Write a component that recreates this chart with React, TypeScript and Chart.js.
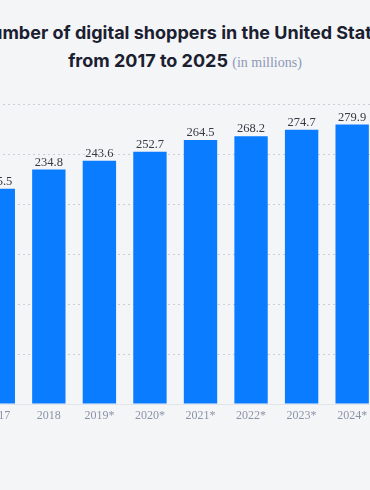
import React, { useEffect, useRef } from "react";
import { Chart, registerables } from "chart.js";

Chart.register(...registerables);

const categories = ["2017", "2018", "2019*", "2020*", "2021*", "2022*", "2023*", "2024*", "2025*"];
const shoppers = [215.5, 234.8, 243.6, 252.7, 264.5, 268.2, 274.7, 279.9, 285.0];
const yMin = 0;
const yMax = 300;
const yStep = 50;
const titleLine1 = "Number of digital shoppers in the United States";
const titleLine2 = "from 2017 to 2025";
const unitLabel = "(in millions)";

const BG = "#f4f5f7";
const BAR = "#0a7cff";

const valueLabels = {
  id: "valueLabels",
  afterDatasetsDraw(chart: any) {
    const ctx = chart.ctx;
    const meta = chart.getDatasetMeta(0);
    ctx.save();
    ctx.font = "12.5px 'Liberation Serif', 'DejaVu Serif', serif";
    ctx.fillStyle = "#363a43";
    ctx.textAlign = "center";
    ctx.textBaseline = "alphabetic";
    meta.data.forEach((el: any, i: number) => {
      ctx.fillText(shoppers[i].toFixed(1), el.x, el.y - 4);
    });
    ctx.restore();
  },
};

export default function App() {
  const ref = useRef<HTMLCanvasElement | null>(null);

  useEffect(() => {
    if (!ref.current) return;
    const chart = new Chart(ref.current, {
      type: "bar",
      data: {
        labels: categories,
        datasets: [
          {
            data: shoppers,
            backgroundColor: BAR,
            borderWidth: 0,
            barPercentage: 0.66,
            categoryPercentage: 1,
          },
        ],
      },
      options: {
        animation: false,
        responsive: false,
        maintainAspectRatio: false,
        layout: { padding: { top: 104.5, bottom: 66, left: 0, right: 0 } },
        plugins: {
          legend: { display: false },
          tooltip: { enabled: false },
          title: { display: false },
        },
        scales: {
          x: {
            grid: { display: false, drawTicks: false },
            border: { display: true, color: "#e1e4ea", width: 1 },
            ticks: {
              padding: 5,
              color: "#8a93a8",
              font: { family: "'Liberation Serif', 'DejaVu Serif', serif", size: 12 },
              maxRotation: 0,
              autoSkip: false,
            },
            afterFit: (s: any) => {
              s.height = 20;
            },
          },
          y: {
            min: yMin,
            max: yMax,
            ticks: { stepSize: yStep, display: false },
            grid: {
              color: "#c9ced8",
              drawTicks: false,
              lineWidth: 1,
            },
            border: { display: false, dash: [2, 3], dashOffset: 0 },
            afterFit: (s: any) => {
              s.width = 0;
            },
          },
        },
      },
      plugins: [valueLabels],
    });
    return () => chart.destroy();
  }, []);

  const titleFont = "Inter, 'Open Sans', sans-serif";

  return (
    <div
      style={{
        position: "fixed",
        left: 0,
        top: 0,
        width: 370,
        height: 490,
        overflow: "hidden",
        background: BG,
      }}
    >
      <div
        style={{
          position: "absolute",
          left: "50%",
          top: 19,
          transform: "translateX(-50%)",
          whiteSpace: "nowrap",
          textAlign: "center",
          fontFamily: titleFont,
          fontWeight: 700,
          fontSize: 18,
          lineHeight: "28px",
          color: "#1b2030",
        }}
      >
        <div>{titleLine1}</div>
        <div>
          {titleLine2}{" "}
          <span
            style={{
              fontFamily: "'Liberation Serif', 'DejaVu Serif', serif",
              fontWeight: 400,
              fontSize: 14,
              color: "#8e98b6",
            }}
          >
            {unitLabel}
          </span>
        </div>
      </div>
      <canvas
        ref={ref}
        width={455}
        height={490}
        style={{ position: "absolute", left: -27, top: 0, width: 455, height: 490 }}
      />
    </div>
  );
}
